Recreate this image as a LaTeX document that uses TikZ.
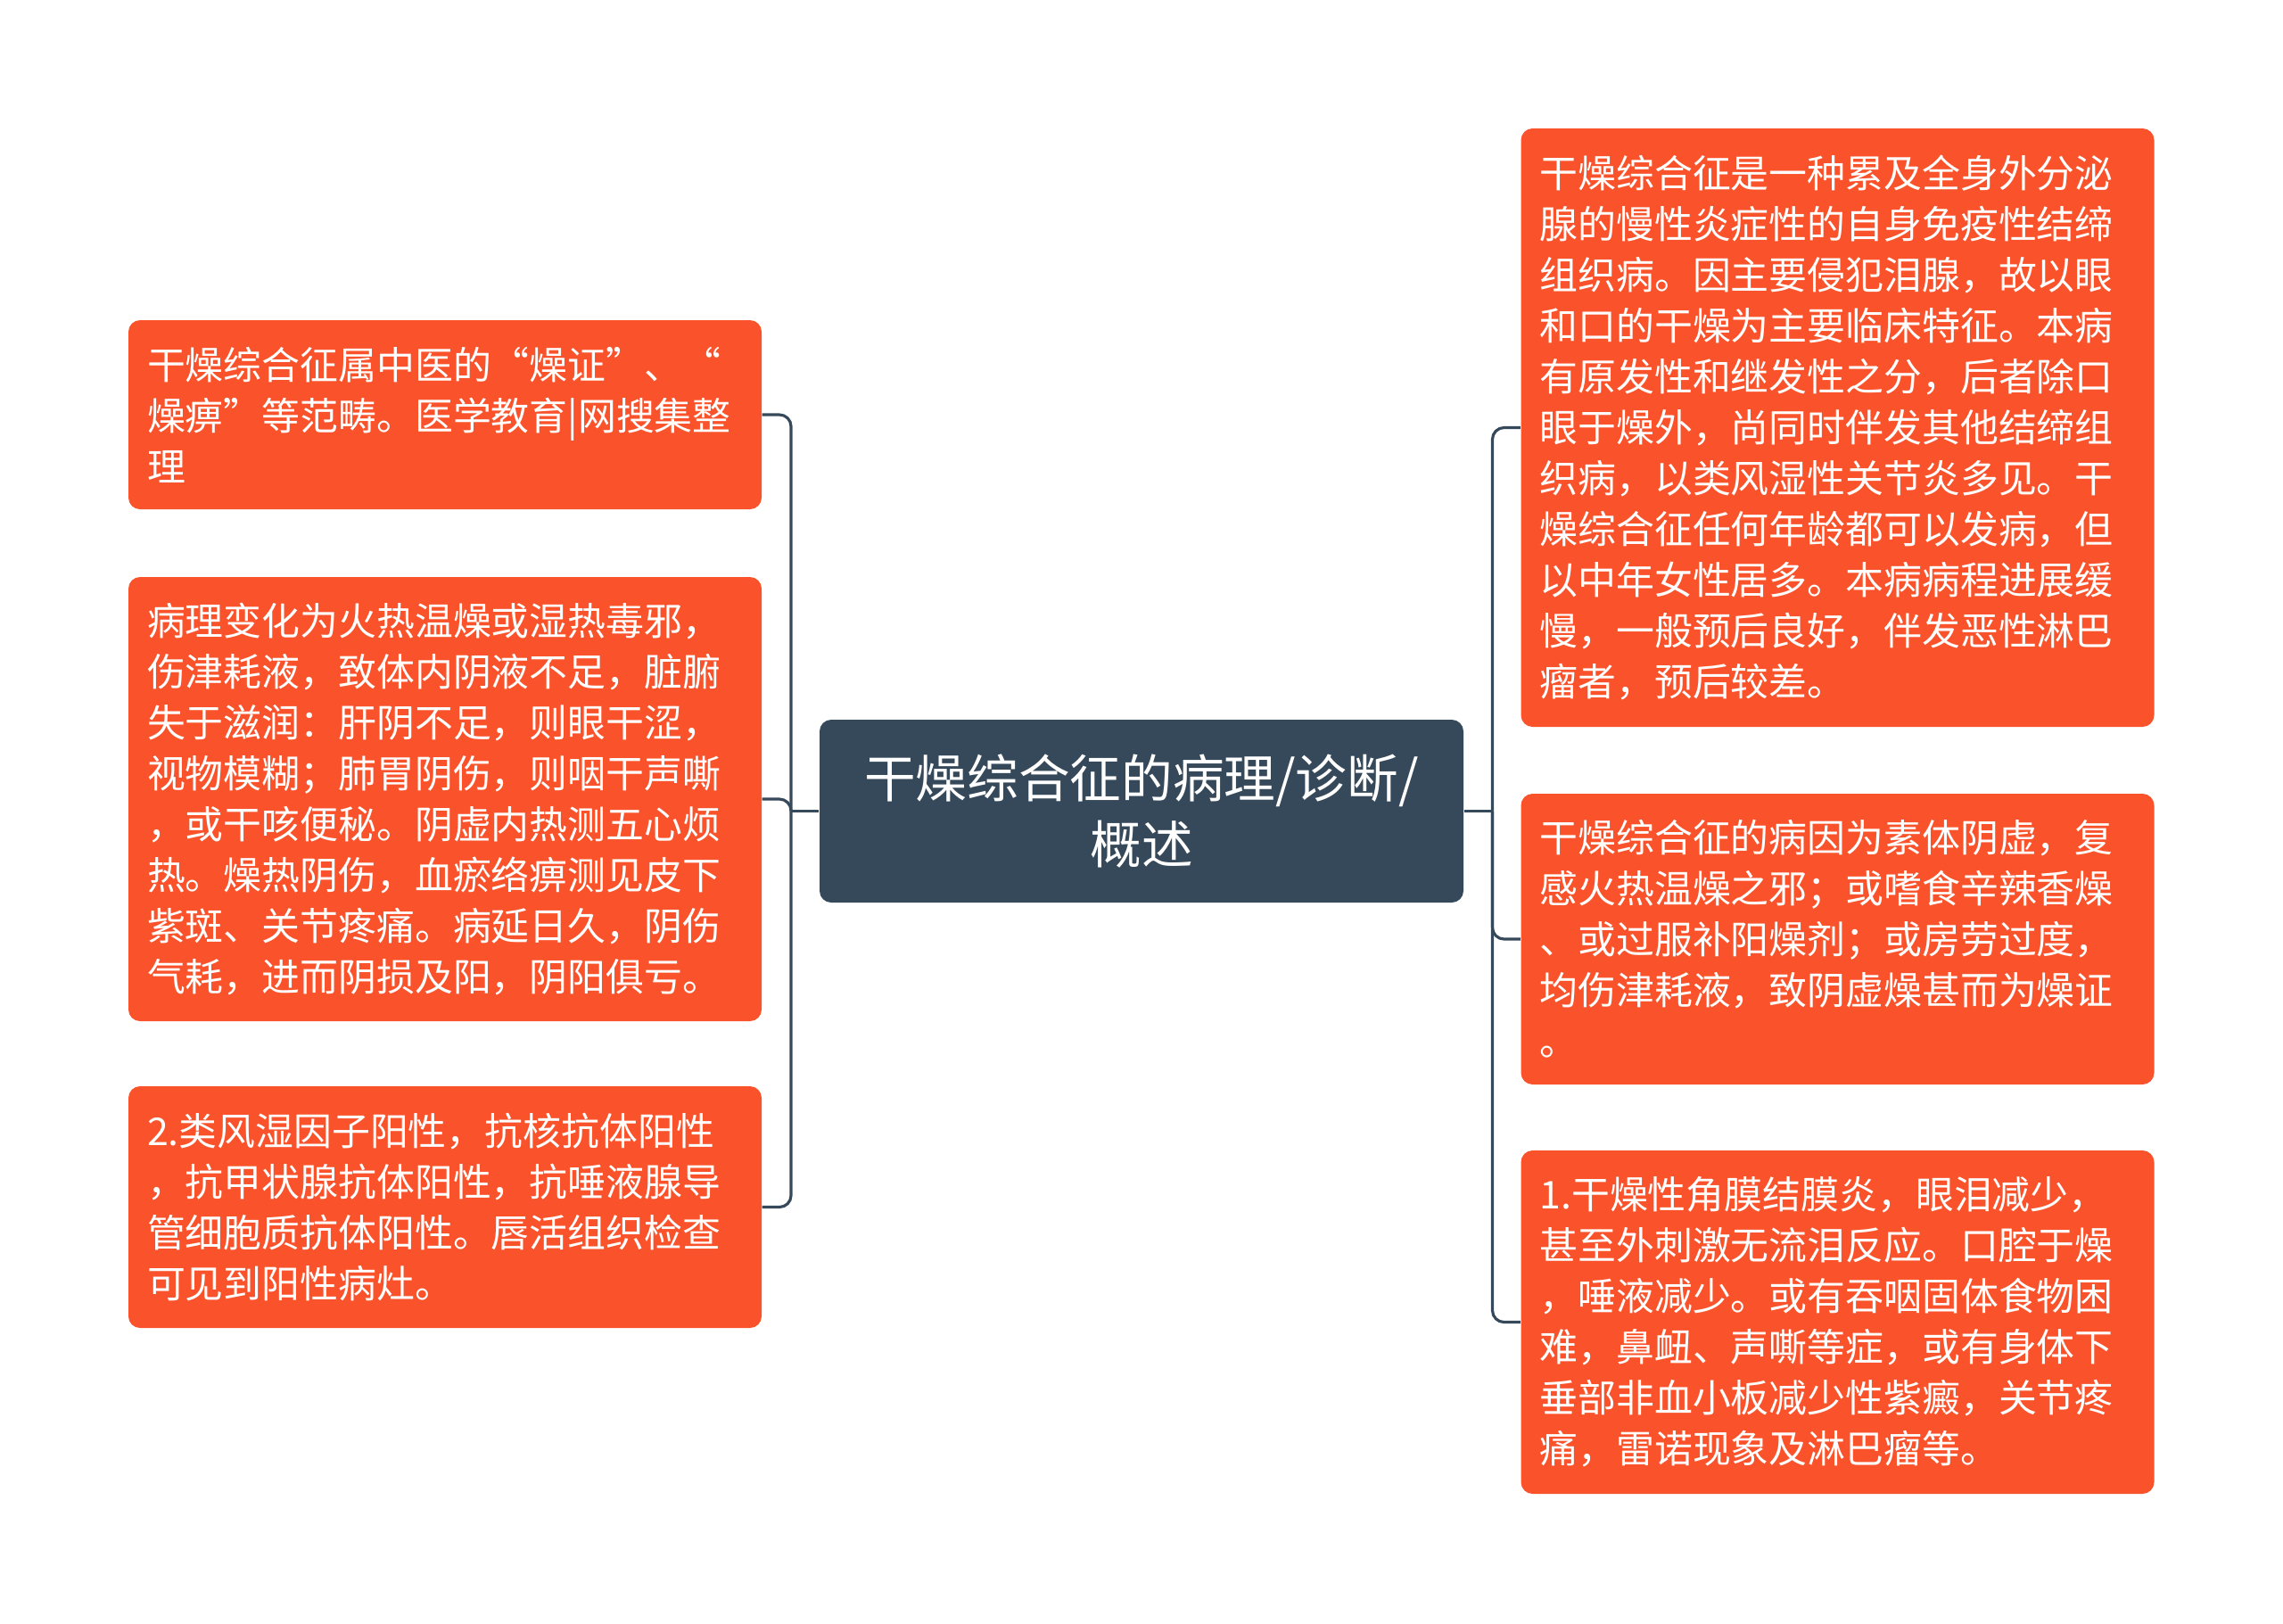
\documentclass[tikz,border=0pt]{standalone}
\usepackage{fontspec}
\newfontfamily\cjk{Noto Sans CJK SC}
\definecolor{leafred}{RGB}{250,82,42}
\definecolor{rootgray}{RGB}{54,73,90}
\newcommand\leaffont{\cjk\fontsize{12.2pt}{16.2pt}\selectfont}
\newcommand\rootfont{\cjk\fontsize{16.4pt}{20.8pt}\selectfont}
\begin{document}
\begin{tikzpicture}[
    leaf/.style={fill=leafred, rounded corners=0.13cm, text=white, font=\leaffont,
                 text width=6.68cm, inner xsep=0.21cm, inner ysep=0pt, align=left},
    root/.style={fill=rootgray, rounded corners=0.13cm, text=white, font=\rootfont,
                 minimum width=7.22cm, minimum height=2.05cm, align=center},
    link/.style={draw=rootgray, line width=0.9pt, rounded corners=0.13cm}]
                    \useasboundingbox (0,0) rectangle (25.6,-18.2);
                    \node[root] (c) at (12.80,-9.095) {干燥综合征的病理/诊断/\\概述};
                    \node[leaf, minimum height=2.12cm] (l1) at (4.99,-4.65) {干燥综合征属中医的“燥证”、“\\燥痹”等范畴。医学教育|网搜集整\\理};
                    \node[leaf, minimum height=4.98cm] (l2) at (4.99,-8.96) {病理变化为火热温燥或湿热毒邪，\\伤津耗液，致体内阴液不足，脏腑\\失于滋润：肝阴不足，则眼干涩，\\视物模糊；肺胃阴伤，则咽干声嘶\\，或干咳便秘。阴虚内热测五心烦\\热。燥热阴伤，血瘀络痹测见皮下\\紫斑、关节疼痛。病延日久，阴伤\\气耗，进而阴损及阳，阴阳俱亏。};
                    \node[leaf, minimum height=2.71cm] (l3) at (4.99,-13.535) {2.类风湿因子阳性，抗核抗体阳性\\，抗甲状腺抗体阳性，抗唾液腺导\\管细胞质抗体阳性。唇活组织检查\\可见到阳性病灶。};
                    \node[leaf, minimum height=6.71cm] (r1) at (20.605,-4.795) {干燥综合征是一种累及全身外分泌\\腺的慢性炎症性的自身免疫性结缔\\组织病。因主要侵犯泪腺，故以眼\\和口的干燥为主要临床特征。本病\\有原发性和继发性之分，后者除口\\眼于燥外，尚同时伴发其他结缔组\\织病，以类风湿性关节炎多见。干\\燥综合征任何年龄都可以发病，但\\以中年女性居多。本病病程进展缓\\慢，一般预后良好，伴发恶性淋巴\\瘤者，预后较差。};
                    \node[leaf, minimum height=3.26cm] (r2) at (20.605,-10.53) {干燥综合征的病因为素体阴虚，复\\感火热温燥之邪；或嗜食辛辣香燥\\、或过服补阳燥剂；或房劳过度，\\均伤津耗液，致阴虚燥甚而为燥证\\。};
                    \node[leaf, minimum height=3.85cm] (r3) at (20.605,-14.825) {1.干燥性角膜结膜炎，眼泪减少，\\甚至外刺激无流泪反应。口腔于燥\\，唾液减少。或有吞咽固体食物困\\难，鼻衄、声嘶等症，或有身体下\\垂部非血小板减少性紫癜，关节疼\\痛，雷诺现象及淋巴瘤等。};
                    \coordinate (lt) at (8.87,-9.095);
                    \coordinate (rt) at (16.735,-9.095);
                    \draw[link] (c.west) -- (lt);
                    \draw[link] (lt) |- (l1.east);
                    \draw[link] (lt) |- (l2.east);
                    \draw[link] (lt) |- (l3.east);
                    \draw[link] (c.east) -- (rt);
                    \draw[link] (rt) |- (r1.west);
                    \draw[link] (rt) |- (r2.west);
                    \draw[link] (rt) |- (r3.west);
                \end{tikzpicture}
\end{document}
